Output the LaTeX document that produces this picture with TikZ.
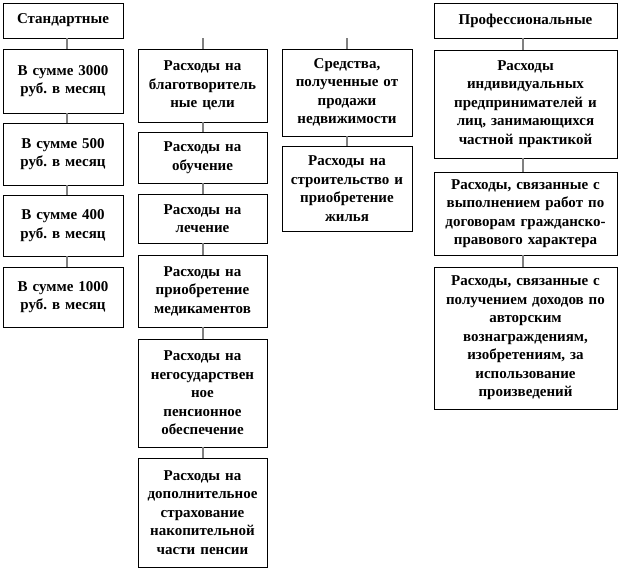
\documentclass[tikz,border=0pt]{standalone}
\usepackage{fontspec}
\setmainfont{Liberation Serif}
\frenchspacing
\tikzset{
  box/.style={draw=black, line width=0.8pt, inner xsep=3pt, inner ysep=0pt, align=center,
    font=\bfseries\fontsize{15}{18.5}\selectfont},
  conn/.style={draw=gray, line width=2pt}
}
\newcommand{\bx}[6]{\node[box, minimum width=#4pt, minimum height=#5pt, text width={#4pt-6pt}] (#1) at (#2,-#3) {#6};}
\begin{document}
\begin{tikzpicture}[x=1pt,y=1pt]
\useasboundingbox (0,0) rectangle (622,-570);
\fill[white] (0,0) rectangle (622,-570);
% column 1
\bx{std}{63}{20.5}{120}{35}{Стандартные}
\bx{sa}{63}{81}{120}{64}{В сумме 3000\\руб. в месяц}
\bx{sb}{63}{154}{120}{62}{В сумме 500\\руб. в месяц}
\bx{sc}{63}{225.5}{120}{61}{В сумме 400\\руб. в месяц}
\bx{sd}{63}{297}{120}{60}{В сумме 1000\\руб. в месяц}
% column 2
\bx{ba}{202.5}{85.5}{129}{73}{Расходы на\\благотворитель\\ные цели}
\bx{bb}{202.5}{157.5}{129}{51}{Расходы на\\обучение}
\bx{bc}{202.5}{218.5}{129}{49}{Расходы на\\лечение}
\bx{bd}{202.5}{291}{129}{72}{Расходы на\\приобретение\\медикаментов}
\bx{be}{202.5}{393}{129}{108}{Расходы на\\негосударствен\\ное\\пенсионное\\обеспечение}
\bx{bf}{202.5}{512.5}{129}{109}{Расходы на\\дополнительное\\страхование\\накопительной\\части пенсии}
% column 3
\bx{ca}{347}{92.5}{130}{87}{Средства,\\полученные от\\продажи\\недвижимости}
\bx{cb}{347}{188.5}{130}{85}{Расходы на\\строительство и\\приобретение\\жилья}
% column 4
\bx{pz}{525.5}{20.5}{183}{35}{Профессиональные}
\bx{pa}{525.5}{104}{183}{108}{Расходы\\индивидуальных\\предпринимателей и\\лиц, занимающихся\\частной практикой}
\bx{pb}{525.5}{213.5}{183}{83}{Расходы, связанные с\\выполнением работ по\\договорам гражданско-\\правового характера}
\bx{pc}{525.5}{338}{183}{142}{Расходы, связанные с\\получением доходов по\\авторским\\вознаграждениям,\\изобретениям, за\\использование\\произведений}
% line positions
\coordinate (x1) at (67,0);
\coordinate (x4) at (523,0);
\coordinate (t2) at (203,-38);
\coordinate (t3) at (347,-38);
% connectors
\draw[conn] (std.south -| x1) -- (sa.north -| x1);
\draw[conn] (sa.south -| x1) -- (sb.north -| x1);
\draw[conn] (sb.south -| x1) -- (sc.north -| x1);
\draw[conn] (sc.south -| x1) -- (sd.north -| x1);
\draw[conn] (t2) -- (ba.north -| t2);
\draw[conn] (ba.south -| t2) -- (bb.north -| t2);
\draw[conn] (bb.south -| t2) -- (bc.north -| t2);
\draw[conn] (bc.south -| t2) -- (bd.north -| t2);
\draw[conn] (bd.south -| t2) -- (be.north -| t2);
\draw[conn] (be.south -| t2) -- (bf.north -| t2);
\draw[conn] (t3) -- (ca.north -| t3);
\draw[conn] (ca.south -| t3) -- (cb.north -| t3);
\draw[conn] (pz.south -| x4) -- (pa.north -| x4);
\draw[conn] (pa.south -| x4) -- (pb.north -| x4);
\draw[conn] (pb.south -| x4) -- (pc.north -| x4);
\end{tikzpicture}
\end{document}
